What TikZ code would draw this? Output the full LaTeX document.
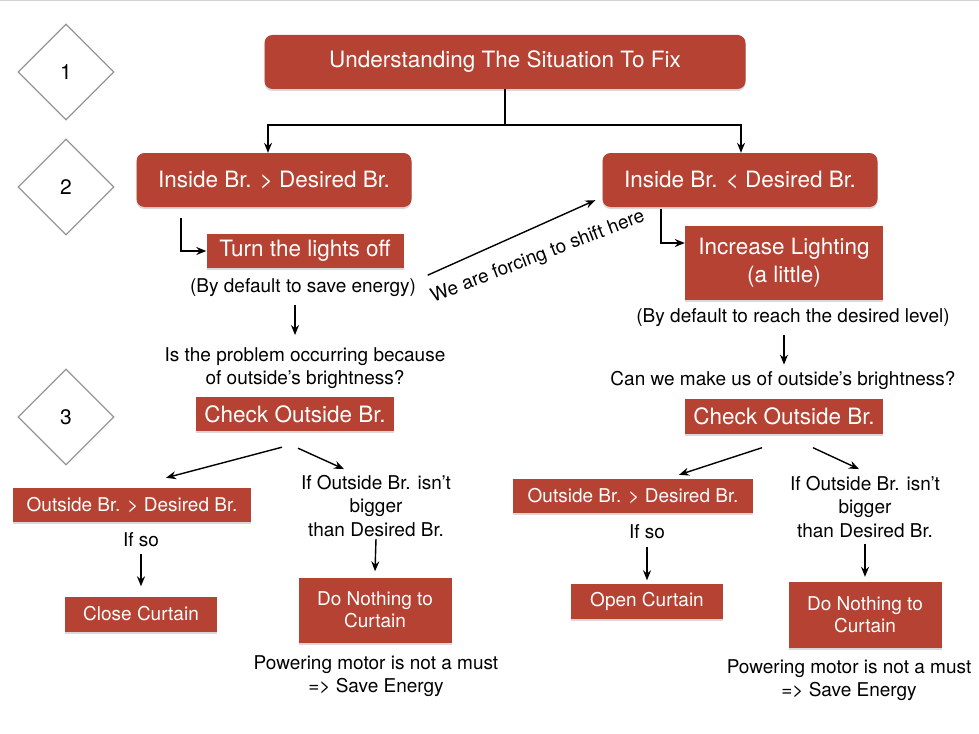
\documentclass[tikz,border=0pt]{standalone}
\usepackage{fontspec}
\setmainfont{TeX Gyre Heros}
\usetikzlibrary{arrows.meta,shapes.geometric,shadows}
\definecolor{boxred}{RGB}{181,66,50}
\definecolor{diagray}{RGB}{150,150,150}
\tikzset{
  flowarrow/.style={line width=1.4pt,-{Stealth[length=10pt,width=8pt]}},
  redbox/.style={fill=boxred, text=white, inner sep=0pt, align=center,
    font=\fontsize{22.5}{28}\selectfont,
    drop shadow={shadow xshift=0pt,shadow yshift=-2pt,opacity=0.3}},
  smallbox/.style={redbox, font=\fontsize{19}{22}\selectfont},
  plain/.style={inner sep=0pt, align=center, font=\fontsize{19}{23.5}\selectfont},
  stepmark/.style={diamond, draw=diagray, line width=1.2pt, minimum width=96pt,
    minimum height=96pt, inner sep=0pt, font=\fontsize{21}{21}\selectfont}
}

\begin{document}
\begin{tikzpicture}[x=1pt,y=-1pt]
\fill[white] (0,0) rectangle (979,733);
\useasboundingbox (0,0) rectangle (979,733);
\draw[gray!35, line width=1pt] (0,1) -- (979,1);

% Stage marks
\node[stepmark] (stage1) at (66,72) {1};
\node[stepmark] (stage2) at (66,187) {2};
\node[stepmark] (stage3) at (66,417) {3};

% Stages 1 and 2
\node[redbox, rounded corners=8pt, minimum width=481pt, minimum height=54pt] (situation) at (505,62) {Understanding The Situation To Fix};
\node[redbox, rounded corners=8pt, minimum width=275pt, minimum height=54pt] (insideGt) at (274,180) {Inside Br. > Desired Br.};
\node[redbox, rounded corners=8pt, minimum width=275pt, minimum height=54pt] (insideLt) at (740,180) {Inside Br. < Desired Br.};
\node[redbox, minimum width=197pt, minimum height=34pt] (lightsOff) at (305,251) {Turn the lights off};
\node[plain] (saveDefault) at (303,288) {(By default to save energy)};
\node[plain, rotate=21] (forceShift) at (538,257) {We are forcing to shift here};
\node[redbox, minimum width=198pt, minimum height=74pt] (lightUp) at (784,263) {Increase Lighting\\(a little)};
\node[plain] (reachDefault) at (793,318) {(By default to reach the desired level)};

% Stage 3
\node[plain] (askL) at (305,368) {Is the problem occurring because\\of outside’s brightness?};
\node[plain] (askR) at (783,380) {Can we make us of outside’s brightness?};
\node[redbox, minimum width=198pt, minimum height=34pt] (checkL) at (295,414) {Check Outside Br.};
\node[redbox, minimum width=198pt, minimum height=35pt] (checkR) at (784,416) {Check Outside Br.};
\node[smallbox, minimum width=238pt, minimum height=34pt] (brighterL) at (132,505) {Outside Br. > Desired Br.};
\node[smallbox, minimum width=240pt, minimum height=34pt] (brighterR) at (633,496) {Outside Br. > Desired Br.};
\node[plain] (ifSoL) at (141,540) {If so};
\node[plain] (ifSoR) at (647,532) {If so};
\node[plain] (notBiggerL) at (376,506) {If Outside Br. isn’t\\bigger\\than Desired Br.};
\node[plain] (notBiggerR) at (865,507) {If Outside Br. isn’t\\bigger\\than Desired Br.};
\node[smallbox, minimum width=152pt, minimum height=35pt] (closeCurtain) at (141,614) {Close Curtain};
\node[smallbox, minimum width=152pt, minimum height=35pt] (openCurtain) at (647,601) {Open Curtain};
\node[smallbox, minimum width=153pt, minimum height=65pt] (idleL) at (375,610) {Do Nothing to\\Curtain};
\node[smallbox, minimum width=153pt, minimum height=66pt] (idleR) at (865,615) {Do Nothing to\\Curtain};
\node[plain] (motorL) at (376,676) {Powering motor is not a must\\=> Save Energy};
\node[plain] (motorR) at (849,680) {Powering motor is not a must\\=> Save Energy};

% Connectors
\draw[line width=1.4pt] (situation.south) -- ++(0,36) coordinate (split);
\draw[flowarrow] (split) -| ([xshift=-6pt]insideGt.north);
\draw[flowarrow] (split) -| ([xshift=1pt]insideLt.north);
\draw[flowarrow] ([shift={(-93,11)}]insideGt.south) |- (lightsOff.west);
\draw[flowarrow] ([shift={(-79,2)}]insideLt.south) |- ([yshift=20pt]lightUp.west);
\draw[flowarrow] ([shift={(24,7)}]lightsOff.south east) -- ([shift={(-7,-7)}]insideLt.south west);
\draw[flowarrow] ([shift={(-8,8)}]saveDefault.south) -- ([shift={(-10,-12)}]askL.north);
\draw[flowarrow] ([shift={(-9,8)}]reachDefault.south) -- ([shift={(1,-6)}]askR.north);

\draw[flowarrow] ([shift={(-13,16)}]checkL.south) -- ([shift={(34,-10)}]brighterL.north);
\draw[flowarrow] ([shift={(3,17)}]checkL.south) -- ([shift={(-32,-6)}]notBiggerL.north);
\draw[flowarrow] ([shift={(-22,14)}]checkR.south) -- ([shift={(46,-4)}]brighterR.north);
\draw[flowarrow] ([shift={(29,14)}]checkR.south) -- ([shift={(-6,-7)}]notBiggerR.north);

\draw[flowarrow] ([yshift=-7pt]ifSoL.south) -- ([yshift=10pt]closeCurtain.north);
\draw[flowarrow] ([yshift=-8pt]ifSoR.south) -- ([yshift=3pt]openCurtain.north);
\draw[flowarrow] ([yshift=-2pt]notBiggerL.south) -- ([yshift=6pt]idleL.north);
\draw[flowarrow] ([yshift=-6pt]notBiggerR.south) -- ([yshift=5pt]idleR.north);
\end{tikzpicture}
\end{document}
